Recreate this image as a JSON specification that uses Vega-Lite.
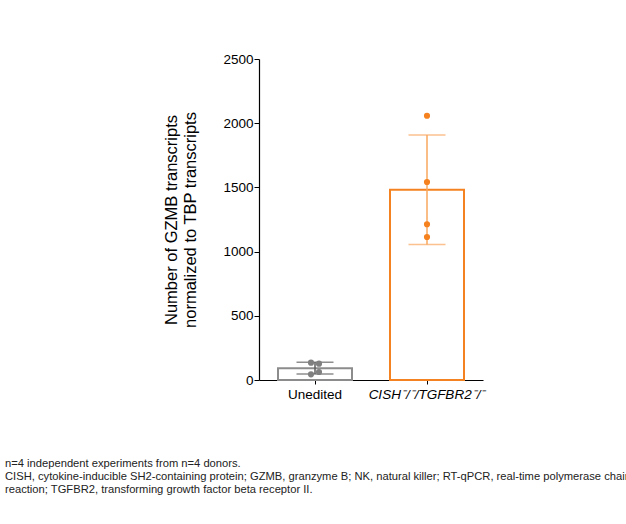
{
  "$schema": "https://vega.github.io/schema/vega-lite/v6.json",
  "width": 224,
  "height": 321,
  "autosize": {"type": "none"},
  "padding": {"left": 259, "top": 59, "right": 143, "bottom": 144},
  "background": "white",
  "config": {"view": {"stroke": null}, "font": "Liberation Sans"},
  "title": {
    "text": ["n=4 independent experiments from n=4 donors.", "CISH, cytokine-inducible SH2-containing protein; GZMB, granzyme B; NK, natural killer; RT-qPCR, real-time polymerase chain", "reaction; TGFBR2, transforming growth factor beta receptor II."],
    "orient": "bottom",
    "anchor": "start",
    "frame": "group",
    "dx": -254,
    "offset": 57,
    "fontSize": 11.2,
    "fontWeight": "normal",
    "color": "#222222",
    "lineHeight": 13,
    "font": "Liberation Sans"
  },
  "data": {
    "values": [
      {"group": "Unedited", "value": 135, "side": -1},
      {"group": "Unedited", "value": 127, "side": 1},
      {"group": "Unedited", "value": 44, "side": -1},
      {"group": "Unedited", "value": 62, "side": 1},
      {"group": "CISH⁻/⁻/TGFBR2⁻/⁻", "value": 2058, "side": 0},
      {"group": "CISH⁻/⁻/TGFBR2⁻/⁻", "value": 1542, "side": 0},
      {"group": "CISH⁻/⁻/TGFBR2⁻/⁻", "value": 1213, "side": 0},
      {"group": "CISH⁻/⁻/TGFBR2⁻/⁻", "value": 1114, "side": 0}
    ]
  },
  "encoding": {
    "x": {
      "field": "group",
      "type": "nominal",
      "sort": ["Unedited", "CISH⁻/⁻/TGFBR2⁻/⁻"],
      "scale": {"paddingInner": 0, "paddingOuter": 0},
      "axis": {
        "title": null,
        "labelAngle": 0,
        "labelFontSize": 13.5,
        "labelColor": "#000000",
        "labelFont": "Liberation Sans",
        "labelFontStyle": {"condition": {"test": "datum.value !== 'Unedited'", "value": "italic"}, "value": "normal"},
        "domainColor": "#000000",
        "domainWidth": 1.2,
        "tickColor": "#000000",
        "tickSize": 4,
        "labelPadding": 3
      }
    },
    "y": {
      "field": "value",
      "type": "quantitative",
      "scale": {"domain": [0, 2500]},
      "axis": {
        "values": [0, 500, 1000, 1500, 2000, 2500],
        "format": "d",
        "title": ["Number of GZMB transcripts", "normalized to TBP transcripts"],
        "titleFontSize": 16.5,
        "titleFontWeight": "normal",
        "titleColor": "#000000",
        "titleFont": "Liberation Sans",
        "titlePadding": 24,
        "titleLineHeight": 19,
        "labelFontSize": 13.5,
        "labelColor": "#000000",
        "labelFont": "Liberation Sans",
        "domainColor": "#000000",
        "domainWidth": 1.2,
        "tickColor": "#000000",
        "tickSize": 5,
        "labelPadding": 1,
        "grid": false
      }
    }
  },
  "layer": [
    {
      "transform": [{"aggregate": [{"op": "mean", "field": "value", "as": "value"}], "groupby": ["group"]}],
      "mark": {"type": "bar", "width": 74, "fill": "white", "strokeWidth": 2},
      "encoding": {
        "stroke": {
          "field": "group",
          "type": "nominal",
          "scale": {"domain": ["Unedited", "CISH⁻/⁻/TGFBR2⁻/⁻"], "range": ["#8c8c8c", "#f58220"]},
          "legend": null
        }
      }
    },
    {
      "mark": {"type": "errorbar", "extent": "stdev", "ticks": {"size": 37}, "thickness": 1.5},
      "encoding": {
        "color": {
          "field": "group",
          "type": "nominal",
          "scale": {"domain": ["Unedited", "CISH⁻/⁻/TGFBR2⁻/⁻"], "range": ["#5e5e5e", "#f9a75e"]},
          "legend": null
        }
      }
    },
    {
      "mark": {"type": "circle", "size": 38, "opacity": 1},
      "encoding": {
        "xOffset": {"field": "side", "type": "quantitative", "scale": {"domain": [-1, 1], "range": [52, 60]}},
        "fill": {
          "field": "group",
          "type": "nominal",
          "scale": {"domain": ["Unedited", "CISH⁻/⁻/TGFBR2⁻/⁻"], "range": ["#808080", "#f5821f"]},
          "legend": null
        }
      }
    }
  ]
}
